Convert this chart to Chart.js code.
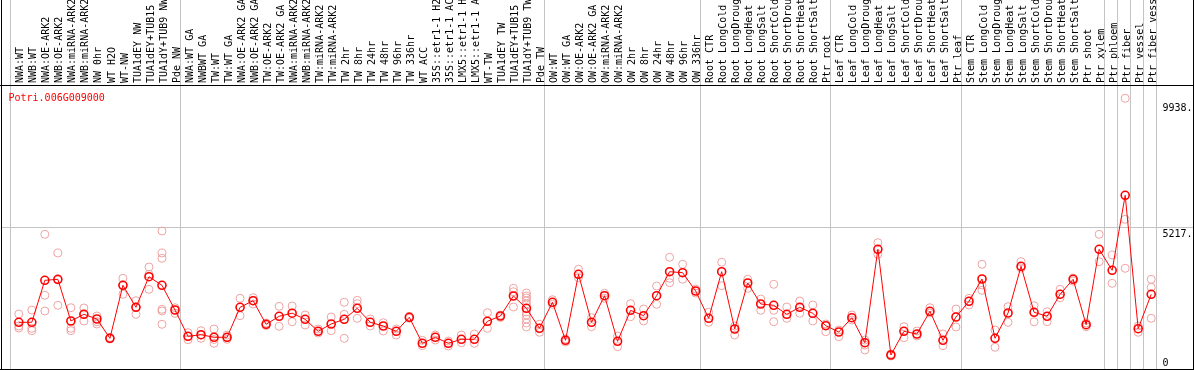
<!DOCTYPE html>
<html>
<head>
<meta charset="utf-8">
<script src="https://cdn.jsdelivr.net/npm/chart.js@4"></script>
<style>
  body { margin: 0; background: #fff; }
  #wrap { width: 1194px; height: 370px; }
</style>
</head>
<body>
<div id="wrap"><canvas id="chart" width="1194" height="370"></canvas></div>
<script>
const geneName = "Potri.006G009000";

const categories = [
    "NWA:WT", "NWB:WT", "NWA:OE-ARK2", "NWB:OE-ARK2", "NWA:miRNA-ARK2", "NWB:miRNA-ARK2",
    "NW 0hr", "WT H2O", "WT-NW", "TUA1dEY NW", "TUA1dEY+TUB15 NW", "TUA1dY+TUB9 NW", "Pde NW",
    "NWA:WT GA", "NWBWT GA", "TW:WT", "TW:WT GA", "NWA:OE-ARK2 GA", "NWB:OE-ARK2 GA",
    "TW:OE-ARK2", "TW:OE-ARK2 GA", "NWA:miRNA-ARK2", "NWB:miRNA-ARK2", "TW:miRNA-ARK2", "TW:miRNA-ARK2",
    "TW 2hr", "TW 8hr", "TW 24hr", "TW 48hr", "TW 96hr", "TW 336hr", "WT ACC",
    "35S::etr1-1 H2O", "35S::etr1-1 ACC", "LMX5::etr1-1 H2O", "LMX5::etr1-1 ACC",
    "WT-TW", "TUA1dEY TW", "TUA1dEY+TUB15 TW", "TUA1dY+TUB9 TW", "Pde TW",
    "OW:WT", "OW:WT GA", "OW:OE-ARK2", "OW:OE-ARK2 GA", "OW:miRNA-ARK2", "OW:miRNA-ARK2",
    "OW 2hr", "OW 8hr", "OW 24hr", "OW 48hr", "OW 96hr", "OW 336hr",
    "Root CTR", "Root LongCold", "Root LongDrought", "Root LongHeat", "Root LongSalt",
    "Root ShortCold", "Root ShortDrought", "Root ShortHeat", "Root ShortSalt", "Ptr root",
    "Leaf CTR", "Leaf LongCold", "Leaf LongDrought", "Leaf LongHeat", "Leaf LongSalt",
    "Leaf ShortCold", "Leaf ShortDrought", "Leaf ShortHeat", "Leaf ShortSalt", "Ptr leaf",
    "Stem CTR", "Stem LongCold", "Stem LongDrought", "Stem LongHeat", "Stem LongSalt",
    "Stem ShortCold", "Stem ShortDrought", "Stem ShortHeat", "Stem ShortSalt", "Ptr shoot", "Ptr xylem",
    "Ptr phloem", "Ptr fiber", "Ptr vessel", "Ptr fiber vessel"
];

// first category of each group (a separator is drawn before each, and one after the last)
const groupStarts = [0, 13, 41, 53, 63, 73, 84, 85, 86, 87, 88];

// mean expression per category
const means = [
    1784, 1784, 3312, 3349, 1831, 2075, 1904, 1201, 3130, 2330, 3443, 3130, 2231,
    1274, 1332, 1238, 1238, 2330, 2570, 1711, 2002, 2115, 1893, 1456, 1722, 1893,
    2293, 1784, 1649, 1456, 1966, 1019, 1238, 1019, 1165, 1165, 1820, 2013, 2741, 2293, 1565,
    2512, 1128, 3531, 1784, 2752, 1092, 2220, 2024, 2752, 3625, 3589, 2923,
    1929, 3625, 1540, 3214, 2450, 2402, 2075, 2330, 2111, 1660,
    1431, 1951, 1041, 4441, 593, 1456, 1358, 2184, 1128, 1977,
    2548, 3360, 1201, 2122, 3822, 2148, 2002, 2803, 3349, 1696, 4441,
    3676, 6406, 1551, 2803
];

// individual replicate values per category
const replicates = [
    [2086, 1576, 1649], [2231, 1565, 1478], [4987, 2766, 2195], [4306, 2402, 3323],
    [2315, 1565, 1478], [2304, 1831, 2086], [2013, 1805, 1722], [1212, 1176, 1230],
    [3385, 2803, 3141], [2570, 2075, 2340], [3797, 3531, 2985],
    [5107, 4306, 4113, 2257, 2195, 1711], [2315, 2111, 2231],
    [1405, 1150, 1267], [1478, 1201, 1321], [1540, 1019, 1158], [1321, 1165, 1230],
    [2657, 2024], [2679, 2450, 2577], [1758, 1667], [2366, 1638], [2377, 1805],
    [2049, 1685], [1540, 1394], [1977, 1478], [2512, 2075, 1201], [2584, 2461, 1929],
    [1904, 1649], [1769, 1467], [1540, 1321], [2002, 1929], [1128, 932], [1321, 1139],
    [1103, 921], [1321, 1041], [1358, 1019], [2133, 1565], [2049, 1958],
    [3021, 2897, 2341], [2850, 2741, 2668, 2559, 2450, 2159, 2049, 1904, 1758, 1613],
    [1711, 1420],
    [2606, 2439], [1176, 1067], [3713, 3407], [1951, 1623], [2839, 2657], [1285, 895],
    [2461, 1987], [2268, 1831], [3105, 2439], [4150, 3385, 3225], [3895, 3349], [2996, 2850],
    [2148, 1784], [3968, 3116], [1649, 1321], [3349, 3021], [2632, 2220], [3167, 2220, 1805],
    [2340, 1929], [2559, 2111], [2413, 1831], [1441, 1722],
    [1259, 1503], [2049, 1867], [957, 775, 1139], [4681, 4259], [557, 630], [1623, 1223],
    [1467, 1285], [2315, 2122], [1358, 932], [2268, 1613],
    [2657, 2413], [3895, 3141, 2948], [1503, 874], [2351, 1784], [3989, 3760], [2388, 1805],
    [2169, 1805], [2985, 2679], [3396, 3287], [1623, 1758], [4987, 3989],
    [4233, 3203], [9938, 5533, 3749], [1649, 1420], [3349, 3058, 1929]
];

// y axis labels shown on the right
const yLabels = [9938, 5217, 0];
const gridValue = 5217;

const meanPoints = means.map((v, i) => ({ x: i, y: v }));
const repPoints = replicates.flatMap((arr, i) => arr.map(v => ({ x: i, y: v })));

const MONO = "'DejaVu Sans Mono', monospace";

const framePlugin = {
    id: "frame",
    beforeDatasetsDraw(chart) {
        const c = chart.ctx;
        const xs = chart.scales.x;
        c.save();
        c.fillStyle = "#c4c4c4";
        groupStarts.forEach(g => {
            const px = Math.round(xs.getPixelForValue(g - 0.65));
            c.fillRect(px, 0, 1, chart.height);
        });
        c.restore();
    },
    afterDraw(chart) {
        const c = chart.ctx;
        const a = chart.chartArea;
        const ys = chart.scales.y;
        c.save();
        c.fillStyle = "#000";
        c.fillRect(1, 0, 1, chart.height);
        c.fillRect(chart.width - 1, 0, 1, chart.height);
        c.fillRect(0, Math.round(a.top), chart.width, 1);
        c.fillRect(0, chart.height - 1, chart.width, 1);

        // gene name
        c.font = "10px " + MONO;
        c.fillStyle = "#ff0000";
        c.textAlign = "left";
        c.textBaseline = "alphabetic";
        c.fillText(geneName, 8.5, 101);

        // y labels on the right
        c.fillStyle = "#000";
        const offs = [12.7, 9, -5];
        yLabels.forEach((v, k) => {
            const txt = v === 0 ? "0" : v + ".";
            c.fillText(txt, 1162.5, ys.getPixelForValue(v) + offs[k]);
        });
        c.restore();
    }
};

new Chart(document.getElementById("chart").getContext("2d"), {
    type: "scatter",
    data: {
        datasets: [
            {
                label: "mean",
                data: meanPoints,
                showLine: true,
                borderColor: "#ff0000",
                borderWidth: 1,
                pointRadius: 4,
                pointBorderWidth: 1.6,
                pointBorderColor: "#ff0000",
                pointBackgroundColor: "rgba(0,0,0,0)",
                tension: 0,
                order: 0
            },
            {
                label: "replicates",
                data: repPoints,
                showLine: false,
                pointRadius: 4,
                pointBorderWidth: 1,
                pointBorderColor: "#eea3a3",
                pointBackgroundColor: "rgba(0,0,0,0)",
                order: 1
            }
        ]
    },
    options: {
        responsive: false,
        animation: false,
        devicePixelRatio: 1,
        layout: { autoPadding: false, padding: { left: 1, right: 1, top: 0, bottom: 1 } },
        plugins: {
            legend: { display: false },
            tooltip: { enabled: false },
            title: { display: false }
        },
        scales: {
            x: {
                type: "linear",
                position: "top",
                min: -1.3676,
                max: 90.21,
                bounds: "data",
                grid: { display: false, drawTicks: false },
                border: { display: false },
                afterBuildTicks: scale => {
                    scale.ticks = categories.map((c, i) => ({ value: i }));
                },
                afterFit: scale => { scale.height = 85; },
                ticks: {
                    autoSkip: false,
                    minRotation: 90,
                    maxRotation: 90,
                    padding: 2,
                    labelOffset: 14,
                    color: "#000",
                    font: { family: MONO, size: 10 },
                    callback: v => categories[v]
                }
            },
            y: {
                type: "linear",
                position: "right",
                min: 84,
                max: 10421,
                bounds: "data",
                grid: {
                    drawTicks: false,
                    color: ctx => (ctx.tick && ctx.tick.value === gridValue ? "#c4c4c4" : "rgba(0,0,0,0)")
                },
                border: { display: false },
                afterBuildTicks: scale => {
                    scale.ticks = [{ value: gridValue }];
                },
                ticks: { display: false }
            }
        }
    },
    plugins: [framePlugin]
});
</script>
</body>
</html>
